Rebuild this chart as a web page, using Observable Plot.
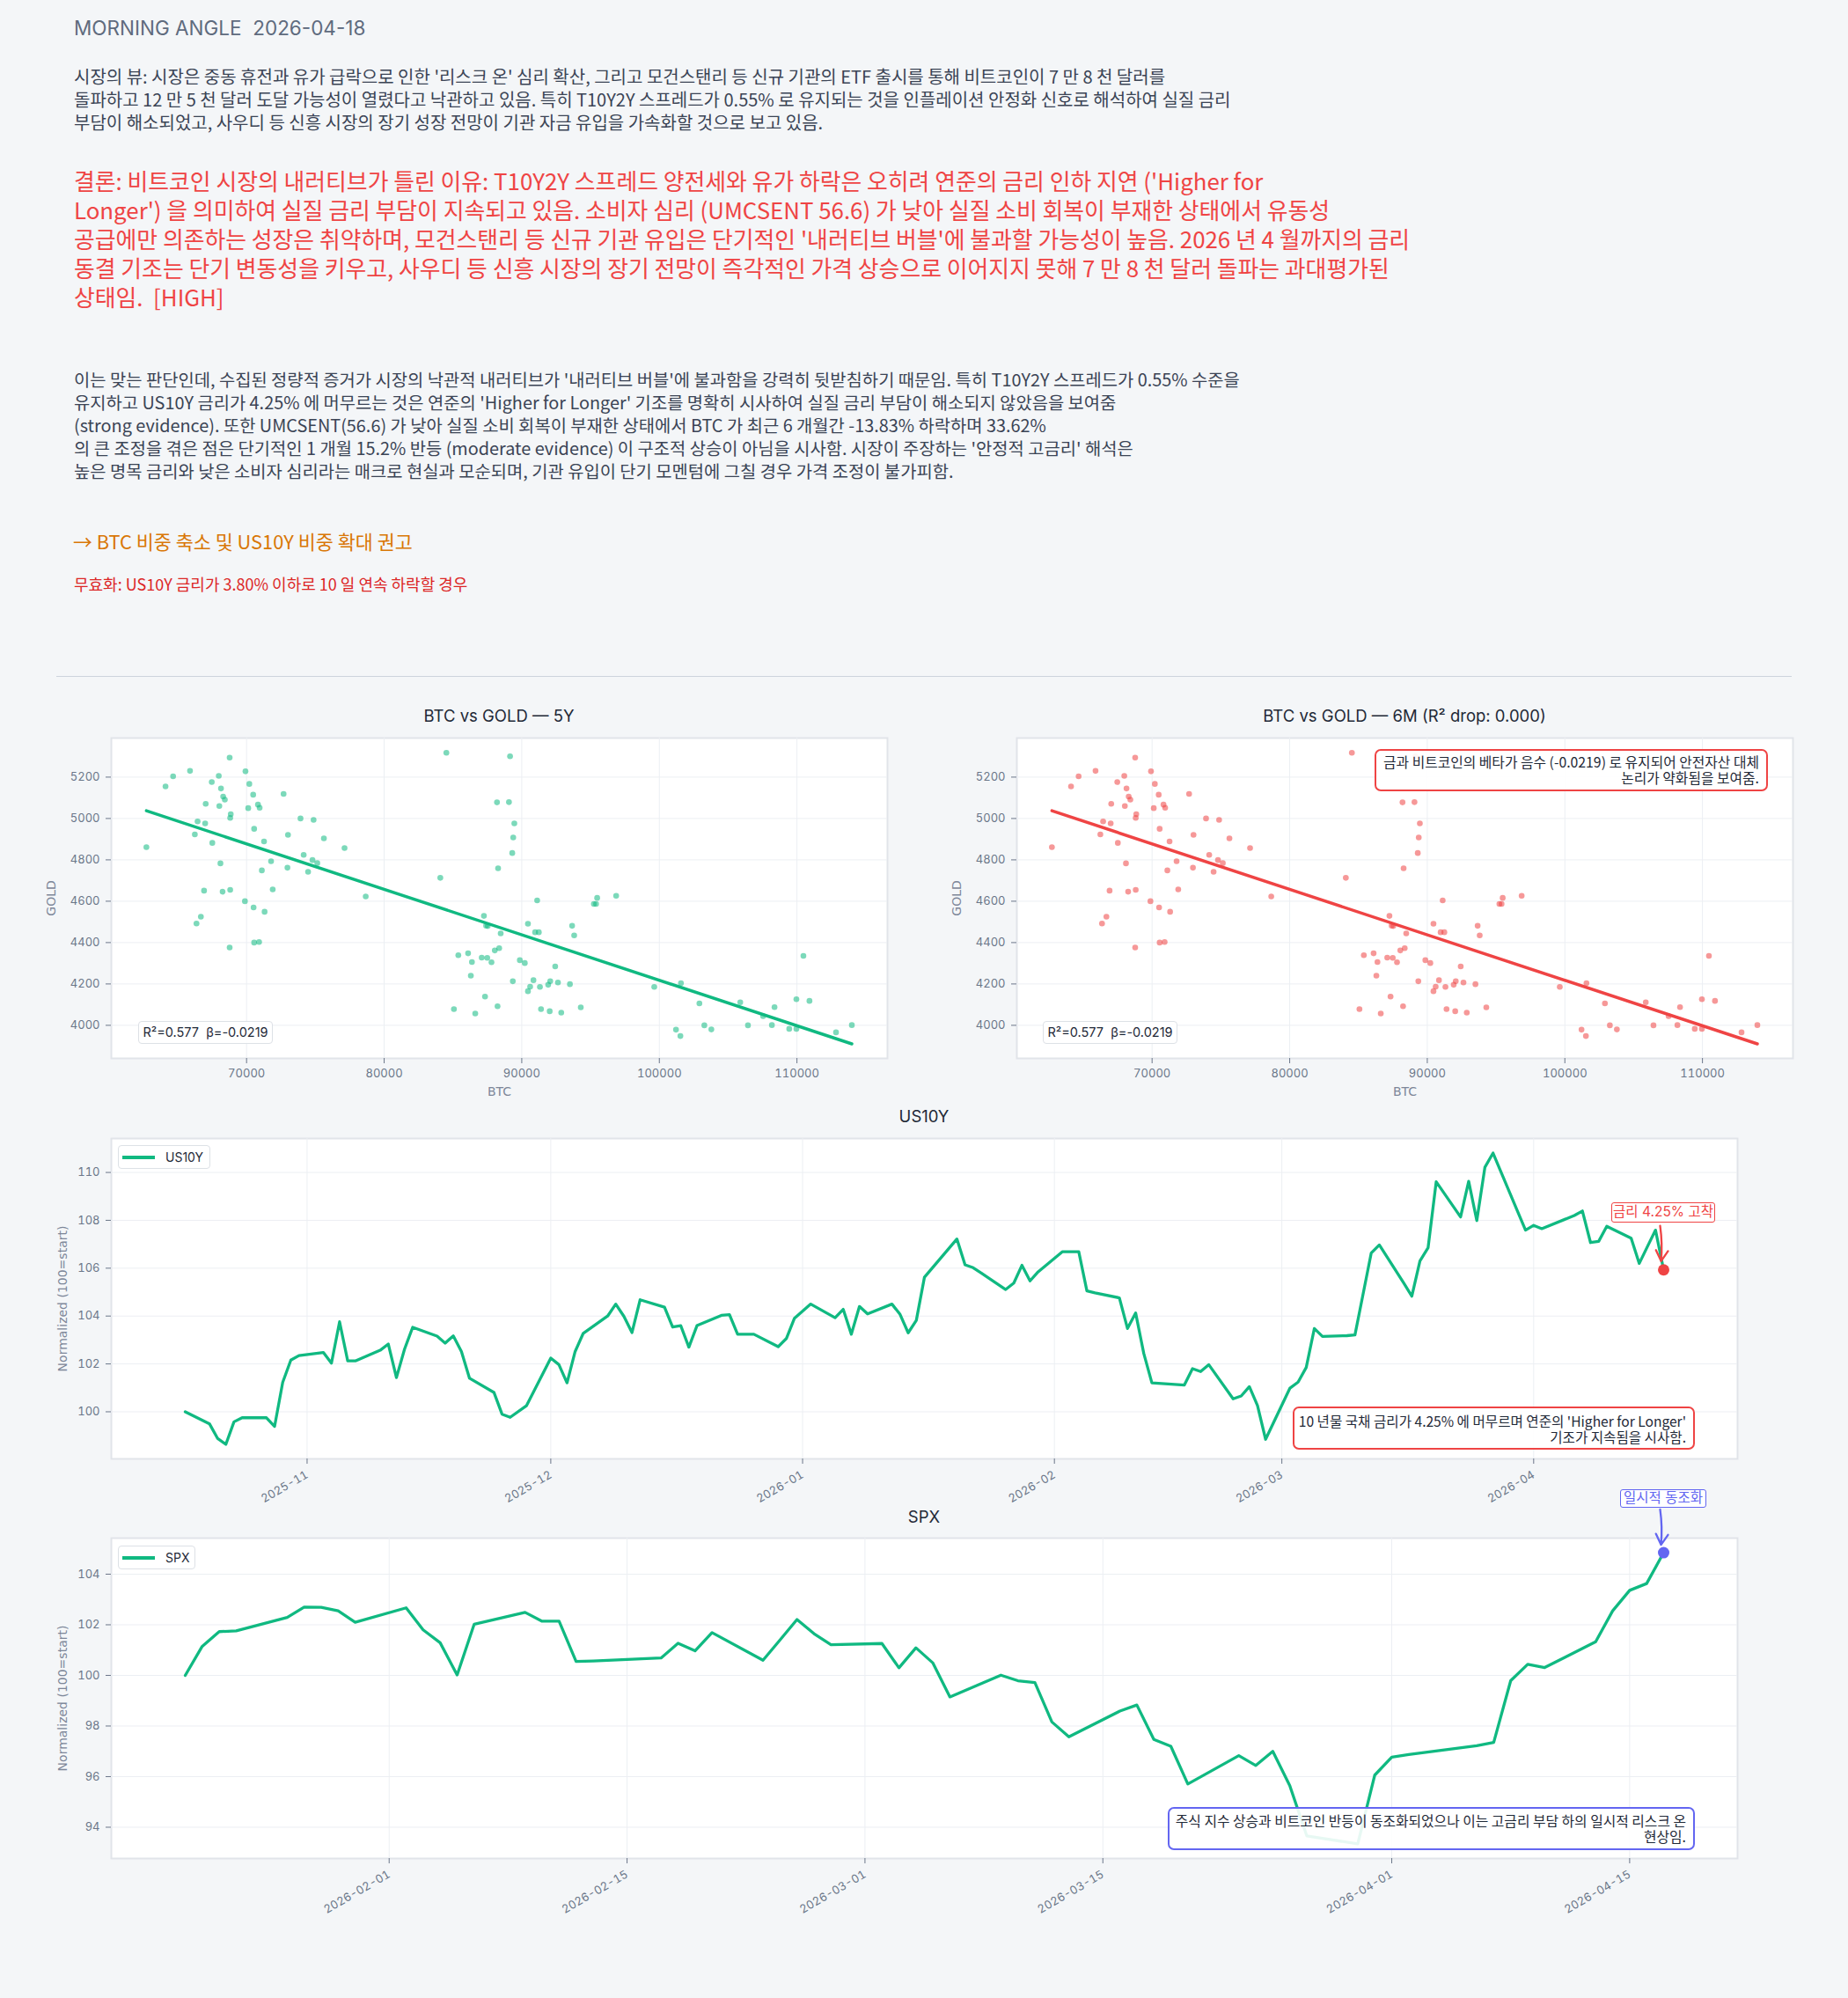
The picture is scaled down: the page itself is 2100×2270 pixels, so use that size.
<!DOCTYPE html>
<html>
<head>
<meta charset="utf-8">
<script src="https://cdn.jsdelivr.net/npm/d3@7"></script>
<script src="https://cdn.jsdelivr.net/npm/@observablehq/plot@0.6"></script>
<style>
html,body{margin:0;padding:0;background:#f4f6f8;}
body{width:2100px;height:2270px;position:relative;overflow:hidden;font-family:"Noto Sans CJK KR","Noto Sans",sans-serif;}
.t{position:absolute;white-space:pre;}
.box{position:absolute;box-sizing:border-box;white-space:pre;}
.ui{font-family:Inter,"Noto Sans CJK KR",sans-serif;}
.kr{font-family:"Noto Sans CJK KR","Noto Sans",sans-serif;}
</style>
</head>
<body>
<script>
// ---------------- DATA ----------------
const headerTitle = "MORNING ANGLE  2026-04-18";
const viewLines = [
"시장의 뷰: 시장은 중동 휴전과 유가 급락으로 인한 '리스크 온' 심리 확산, 그리고 모건스탠리 등 신규 기관의 ETF 출시를 통해 비트코인이 7 만 8 천 달러를",
"돌파하고 12 만 5 천 달러 도달 가능성이 열렸다고 낙관하고 있음. 특히 T10Y2Y 스프레드가 0.55% 로 유지되는 것을 인플레이션 안정화 신호로 해석하여 실질 금리",
"부담이 해소되었고, 사우디 등 신흥 시장의 장기 성장 전망이 기관 자금 유입을 가속화할 것으로 보고 있음."
];
const conclusionLines = [
"결론: 비트코인 시장의 내러티브가 틀린 이유: T10Y2Y 스프레드 양전세와 유가 하락은 오히려 연준의 금리 인하 지연 ('Higher for",
"Longer') 을 의미하여 실질 금리 부담이 지속되고 있음. 소비자 심리 (UMCSENT 56.6) 가 낮아 실질 소비 회복이 부재한 상태에서 유동성",
"공급에만 의존하는 성장은 취약하며, 모건스탠리 등 신규 기관 유입은 단기적인 '내러티브 버블'에 불과할 가능성이 높음. 2026 년 4 월까지의 금리",
"동결 기조는 단기 변동성을 키우고, 사우디 등 신흥 시장의 장기 전망이 즉각적인 가격 상승으로 이어지지 못해 7 만 8 천 달러 돌파는 과대평가된",
"상태임.  [HIGH]"
];
const evidenceLines = [
"이는 맞는 판단인데, 수집된 정량적 증거가 시장의 낙관적 내러티브가 '내러티브 버블'에 불과함을 강력히 뒷받침하기 때문임. 특히 T10Y2Y 스프레드가 0.55% 수준을",
"유지하고 US10Y 금리가 4.25% 에 머무르는 것은 연준의 'Higher for Longer' 기조를 명확히 시사하여 실질 금리 부담이 해소되지 않았음을 보여줌",
"(strong evidence). 또한 UMCSENT(56.6) 가 낮아 실질 소비 회복이 부재한 상태에서 BTC 가 최근 6 개월간 -13.83% 하락하며 33.62%",
"의 큰 조정을 겪은 점은 단기적인 1 개월 15.2% 반등 (moderate evidence) 이 구조적 상승이 아님을 시사함. 시장이 주장하는 '안정적 고금리' 해석은",
"높은 명목 금리와 낮은 소비자 심리라는 매크로 현실과 모순되며, 기관 유입이 단기 모멘텀에 그칠 경우 가격 조정이 불가피함."
];
const recommendation = "→ BTC 비중 축소 및 US10Y 비중 확대 권고";
const invalidation = "무효화: US10Y 금리가 3.80% 이하로 10 일 연속 하락할 경우";

const scatterTitles = ["BTC vs GOLD — 5Y", "BTC vs GOLD — 6M (R² drop: 0.000)"];
const statText = "R²=0.577  β=-0.0219";
const scatterNote = ["금과 비트코인의 베타가 음수 (-0.0219) 로 유지되어 안전자산 대체", "논리가 약화됨을 보여줌."];
const us10yNote = ["10 년물 국채 금리가 4.25% 에 머무르며 연준의 'Higher for Longer'", "기조가 지속됨을 시사함."];
const us10yTag = "금리 4.25% 고착";
const spxNote = ["주식 지수 상승과 비트코인 반등이 동조화되었으나 이는 고금리 부담 하의 일시적 리스크 온", "현상임."];
const spxTag = "일시적 동조화";

const btcValues = [62720,64110,64660,65890,66360,66440,66240,66680,66990,67030,66910,67470,67510,67980,68020,68140,68100,68260,68300,68420,
68770,68810,68850,68810,68770,69880,69920,70120,70200,70480,70510,70550,70550,70830,70950,70910,71110,71270,71310,71780,
71900,72690,72970,73010,73920,74150,74470,74790,74870,75140,75620,77120,78660,
84080,84520,85070,85390,86100,86300,86380,86620,87090,87250,87330,87410,87490,87530,87800,88040,88200,88240,88280,88360,
88470,89070,89150,89310,89350,89380,89460,89860,90220,90450,90450,90610,90850,90970,91120,91240,91320,91400,91920,92070,
92030,92430,92630,92870,93500,93660,93810,94290,95240,95400,95480,96860,
99630,101530,101210,101570,102910,103270,103780,105880,106440,107540,108180,108370,109440,109960,109960,110470,110910,112840,113990];
const goldValues = [4861,5155,5204,5230,4492,4986,4923,4525,4976,5071,4651,5176,4882,5206,5060,5145,4783,4646,5106,5091,
5294,5003,5021,4655,4376,4600,5228,5050,5167,5115,4570,4950,4400,5067,5052,4403,4749,4889,4549,4793,
4657,5119,4762,4921,5000,4824,4742,4799,4993,4784,4904,4857,4623,
4713,5318,4078,4339,4348,4240,4306,4057,4327,4529,4139,4482,4326,4480,4305,4362,5078,4092,4759,4373,
4444,5079,5301,4833,4213,4908,4976,4315,4301,4491,4165,4187,4218,4450,4604,4450,4186,4078,4196,4213,
4068,4285,4207,4061,4199,4481,4435,4087,4587,4587,4616,4626,
4186,3948,3979,4204,4106,4000,3980,4111,4000,4044,4001,4088,3983,4126,3983,4336,4118,3966,4001];

const us10yDates = ["2025-10-17","2025-10-20","2025-10-21","2025-10-22","2025-10-23","2025-10-24","2025-10-27","2025-10-28","2025-10-29","2025-10-30","2025-10-31",
"2025-11-03","2025-11-04","2025-11-05","2025-11-06","2025-11-07","2025-11-10","2025-11-11","2025-11-12","2025-11-13","2025-11-14",
"2025-11-17","2025-11-18","2025-11-19","2025-11-20","2025-11-21","2025-11-24","2025-11-25","2025-11-26","2025-11-28",
"2025-12-01","2025-12-02","2025-12-03","2025-12-04","2025-12-05","2025-12-08","2025-12-09","2025-12-10","2025-12-11","2025-12-12",
"2025-12-15","2025-12-16","2025-12-17","2025-12-18","2025-12-19","2025-12-22","2025-12-23","2025-12-24","2025-12-26","2025-12-29","2025-12-30","2025-12-31",
"2026-01-02","2026-01-05","2026-01-06","2026-01-07","2026-01-08","2026-01-09","2026-01-12","2026-01-13","2026-01-14","2026-01-15","2026-01-16",
"2026-01-20","2026-01-21","2026-01-22","2026-01-23","2026-01-26","2026-01-27","2026-01-28","2026-01-29","2026-01-30",
"2026-02-02","2026-02-03","2026-02-04","2026-02-05","2026-02-06","2026-02-09","2026-02-10","2026-02-11","2026-02-12","2026-02-13",
"2026-02-17","2026-02-18","2026-02-19","2026-02-20","2026-02-23","2026-02-24","2026-02-25","2026-02-26","2026-02-27",
"2026-03-02","2026-03-03","2026-03-04","2026-03-05","2026-03-06","2026-03-09","2026-03-10","2026-03-11","2026-03-12","2026-03-13",
"2026-03-16","2026-03-17","2026-03-18","2026-03-19","2026-03-20","2026-03-23","2026-03-24","2026-03-25","2026-03-26","2026-03-27",
"2026-03-30","2026-03-31","2026-04-01","2026-04-02","2026-04-06","2026-04-07","2026-04-08","2026-04-09","2026-04-10",
"2026-04-13","2026-04-14","2026-04-15","2026-04-16","2026-04-17"];
const us10yValues = [100.00,99.49,98.88,98.64,99.58,99.75,99.75,99.39,101.23,102.16,102.35,
102.48,102.03,103.76,102.13,102.13,102.57,102.83,101.43,102.62,103.53,
103.16,102.87,103.17,102.52,101.40,100.81,99.90,99.77,100.25,
102.24,101.97,101.21,102.52,103.28,104.00,104.50,103.99,103.31,104.68,
104.37,103.54,103.60,102.70,103.60,104.03,104.06,103.24,103.24,102.72,103.06,103.91,
104.50,103.93,104.28,103.24,104.40,104.09,104.50,104.07,103.30,103.82,105.62,
107.22,106.14,106.02,105.80,105.11,105.38,106.12,105.47,105.85,
106.69,106.69,106.69,105.05,104.97,104.76,103.48,104.13,102.44,101.21,
101.12,101.80,101.68,101.97,100.54,100.66,101.05,100.26,98.85,
100.99,101.24,101.85,103.48,103.15,103.18,103.21,104.92,106.63,106.97,
105.38,104.83,106.30,106.85,109.61,108.14,109.63,107.99,110.22,110.81,
108.39,107.59,107.79,107.65,108.20,108.39,107.07,107.12,107.75,
107.25,106.20,106.90,107.59,105.93];

const spxDates = ["2026-01-20","2026-01-21","2026-01-22","2026-01-23","2026-01-26","2026-01-27","2026-01-28","2026-01-29","2026-01-30",
"2026-02-02","2026-02-03","2026-02-04","2026-02-05","2026-02-06","2026-02-09","2026-02-10","2026-02-11","2026-02-12","2026-02-13",
"2026-02-17","2026-02-18","2026-02-19","2026-02-20","2026-02-23","2026-02-24","2026-02-25","2026-02-26","2026-02-27",
"2026-03-02","2026-03-03","2026-03-04","2026-03-05","2026-03-06","2026-03-09","2026-03-10","2026-03-11","2026-03-12","2026-03-13",
"2026-03-16","2026-03-17","2026-03-18","2026-03-19","2026-03-20","2026-03-23","2026-03-24","2026-03-25","2026-03-26","2026-03-27",
"2026-03-30","2026-03-31","2026-04-01","2026-04-02","2026-04-06","2026-04-07","2026-04-08","2026-04-09","2026-04-10",
"2026-04-13","2026-04-14","2026-04-15","2026-04-16","2026-04-17"];
const spxValues = [100.00,101.15,101.73,101.76,102.29,102.70,102.69,102.55,102.10,
102.67,101.80,101.29,100.02,102.02,102.49,102.14,102.14,100.55,100.57,
100.69,101.27,100.97,101.69,100.60,101.40,102.21,101.65,101.21,
101.26,100.30,101.09,100.49,99.15,100.01,99.79,99.72,98.16,97.57,
98.59,98.83,97.47,97.20,95.71,96.83,96.44,97.00,95.64,93.66,
93.34,96.06,96.77,96.87,97.22,97.35,99.79,100.44,100.31,
101.33,102.55,103.36,103.63,104.85];

const btcTicks = [70000,80000,90000,100000,110000];
const goldTicks = [4000,4200,4400,4600,4800,5000,5200];
const us10yXTicks = ["2025-11-01","2025-12-01","2026-01-01","2026-02-01","2026-03-01","2026-04-01"];
const spxXTicks = ["2026-02-01","2026-02-15","2026-03-01","2026-03-15","2026-04-01","2026-04-15"];
const us10yYTicks = [100,102,104,106,108,110];
const spxYTicks = [94,96,98,100,102,104];

// ---------------- STYLE ----------------
const C = {green:"#10b981", red:"#ef4444", indigo:"#6366f1", tick:"#6b7689", label:"#7d8799",
  grid:"#eceff3", frame:"#e1e4e9", text:"#1f2937"};
const FONT = "Inter,'Noto Sans CJK KR',sans-serif";
const LFONT = "'DejaVu Sans',sans-serif";

// ---------------- HELPERS ----------------
function el(tag, css, text, cls){const e=document.createElement(tag);e.style.cssText=css;if(text!==undefined)e.textContent=text;e.className=cls||"t";document.body.appendChild(e);return e;}
function lines(arr, left, top, size, lh, color){
  arr.forEach((s,i)=>el("div",`left:${left}px;top:${top+i*lh}px;font-size:${size}px;line-height:${lh}px;color:${color};`,s));
}
function place(node,left,top){const w=el("div",`position:absolute;left:${left}px;top:${top}px;`,undefined,"");w.appendChild(node);}
function noteBox(arr,left,top,w,h,color,size,lh){
  return el("div",`left:${left}px;top:${top}px;width:${w}px;height:${h}px;border:2px solid ${color};border-radius:7px;background:rgba(255,255,255,0.9);text-align:right;padding:${(h-4-arr.length*lh)/2}px 8px 0 0;font-size:${size}px;line-height:${lh}px;color:${C.text};`,arr.join("\n"),"box kr");
}
function tagBox(s,left,top,w,h,color){
  return el("div",`left:${left}px;top:${top}px;width:${w}px;height:${h}px;border:1.5px solid ${color};border-radius:3px;background:rgba(255,255,255,0.92);text-align:center;font-size:15.5px;line-height:${h-3}px;color:${color};`,s,"box ui");
}
function legendBox(label,left,top,w,h){
  el("div",`left:${left}px;top:${top}px;width:${w}px;height:${h}px;border:1.5px solid #dde1e6;border-radius:4px;background:rgba(255,255,255,0.9);`,undefined,"box");
  el("div",`position:absolute;left:${left+5}px;top:${top+h/2-2}px;width:37px;height:4px;background:${C.green};`,undefined,"");
  el("div",`left:${left+54}px;top:${top}px;line-height:${h}px;font-size:14px;color:${C.text};`,label,"t ui");
}
function pad(ext){const p=(ext[1]-ext[0])*0.05;return [ext[0]-p,ext[1]+p];}

// ---------------- TEXT BLOCKS ----------------
el("div",`left:84px;top:16px;font-size:22.5px;line-height:32px;color:#5f6b7e;`,headerTitle,"t ui");
lines(viewLines,84,74,20,26,"#3b4455");
lines(conclusionLines,84,187.5,25.85,33,"#ef4444");
lines(evidenceLines,84,418,19.85,26,"#3b4455");
el("div",`left:83px;top:600px;font-size:21.8px;line-height:30px;color:#d97706;`,recommendation);
el("div",`left:84px;top:651px;font-size:18px;line-height:24px;color:#dc2626;`,invalidation);
el("div",`position:absolute;left:64px;top:768px;width:1972px;height:0;border-top:1.5px solid #cdd3dc;`,undefined,"");

// ---------------- SCATTERS ----------------
const points = btcValues.map((b,i)=>({btc:b, gold:goldValues[i]}));
function scatter(color, w, mL, mR){
  return Plot.plot({
    width:w, height:490, marginLeft:mL, marginRight:mR, marginTop:58, marginBottom:68,
    style:{background:"transparent", fontFamily:FONT, fontSize:"13px", color:C.tick, overflow:"visible"},
    x:{domain:[60170,116580]},
    y:{domain:[3840,5389]},
    marks:[
      Plot.frame({fill:"white", stroke:C.frame, strokeWidth:2}),
      Plot.gridX(btcTicks,{stroke:C.grid, strokeOpacity:1, strokeWidth:1}),
      Plot.gridY(goldTicks,{stroke:C.grid, strokeOpacity:1, strokeWidth:1}),
      Plot.axisX(btcTicks,{tickFormat:d3.format("d"), tickSize:6, tickPadding:6, label:null, fontSize:13}),
      Plot.axisY(goldTicks,{tickFormat:d3.format("d"), tickSize:6, tickPadding:7, label:null, fontSize:13}),
      Plot.dot(points,{x:"btc", y:"gold", r:3.3, fill:color, fillOpacity:0.55, stroke:"none"}),
      Plot.linearRegressionY(points,{x:"btc", y:"gold", stroke:color, strokeWidth:3.5, ci:0}),
      Plot.text(["BTC"],{frameAnchor:"bottom", dy:42, fontFamily:LFONT, fontSize:14, fill:C.label}),
      Plot.text(["GOLD"],{frameAnchor:"left", textAnchor:"middle", dx:-68, rotate:-90, fontFamily:LFONT, fontSize:14, fill:C.label})
    ]
  });
}
place(scatter(C.green,1040,126,32),0,780);
place(scatter(C.red,1060,115,63),1040,780);
el("div",`left:567px;top:800px;transform:translateX(-50%);font-size:18.5px;line-height:26px;color:${C.text};`,scatterTitles[0],"t ui");
el("div",`left:1596px;top:800px;transform:translateX(-50%);font-size:18.5px;line-height:26px;color:${C.text};`,scatterTitles[1],"t ui");
[157,1185].forEach(x=>{
  el("div",`left:${x}px;top:1160px;width:153px;height:26px;border:1.5px solid #dde1e6;border-radius:4px;background:rgba(255,255,255,0.9);font-size:14.5px;line-height:23px;text-align:center;color:${C.text};`,statText,"box ui");
});
noteBox(scatterNote,1562,851,447,48,C.red,15.8,18);

// ---------------- LINE CHARTS ----------------
function lineChart(dates, values, xTicks, fmt, yTicks, height, mT, mB, accent, offset, inset){
  const data = dates.map((d,i)=>({date:new Date(d), value:values[i]}));
  const last = data[data.length-1];
  const xd = pad(d3.extent(data,d=>+d.date)).map(t=>new Date(t));
  const yd = pad(d3.extent(data,d=>d.value));
  const tickDates = xTicks.map(d=>new Date(d));
  return Plot.plot({
    width:2100, height, marginLeft:126, marginRight:126, marginTop:mT, marginBottom:mB,
    style:{background:"transparent", fontFamily:FONT, fontSize:"13px", color:C.tick, overflow:"visible"},
    x:{type:"utc", domain:xd},
    y:{domain:yd},
    marks:[
      Plot.frame({fill:"white", stroke:C.frame, strokeWidth:2}),
      Plot.gridX(tickDates,{stroke:C.grid, strokeOpacity:1, strokeWidth:1}),
      Plot.gridY(yTicks,{stroke:C.grid, strokeOpacity:1, strokeWidth:1}),
      Plot.axisX(tickDates,{tickFormat:d3.utcFormat(fmt), tickRotate:-30, tickSize:6, tickPadding:11, label:null, fontSize:13}),
      Plot.axisY(yTicks,{tickSize:6, tickPadding:7, label:null, fontSize:13}),
      Plot.text(["Normalized (100=start)"],{frameAnchor:"left", textAnchor:"middle", dx:-55, rotate:-90, fontFamily:LFONT, fontSize:14, fill:C.label}),
      Plot.lineY(data,{x:"date", y:"value", stroke:C.green, strokeWidth:3.3}),
      Plot.dot([last],{x:"date", y:"value", r:6.5, fill:accent, stroke:"none"}),
      Plot.arrow([last],{x1:"date", y1:d=>d.value+offset, x2:"date", y2:"value", dx:-4, bend:8, insetEnd:inset, headLength:9, stroke:accent, strokeWidth:2.3})
    ]
  });
}
place(lineChart(us10yDates,us10yValues,us10yXTicks,"%Y-%m",us10yYTicks,460,43,53,C.red,1.84,10),0,1250);
place(lineChart(spxDates,spxValues,spxXTicks,"%Y-%m-%d",spxYTicks,480,37,79,C.indigo,1.71,9),0,1710);
el("div",`left:1050px;top:1255px;transform:translateX(-50%);font-size:18.5px;line-height:26px;color:${C.text};`,"US10Y","t ui");
el("div",`left:1050px;top:1710px;transform:translateX(-50%);font-size:18.5px;line-height:26px;color:${C.text};`,"SPX","t ui");
legendBox("US10Y",134,1301,105,27);
legendBox("SPX",134,1756,88,27);
tagBox(us10yTag,1831,1366,118,23,C.red);
noteBox(us10yNote,1469,1598,457,49,C.red,15.6,18);
tagBox(spxTag,1841,1692,98,21,C.indigo);
noteBox(spxNote,1327,2053,599,49,C.indigo,15.8,18);
</script>
</body>
</html>
